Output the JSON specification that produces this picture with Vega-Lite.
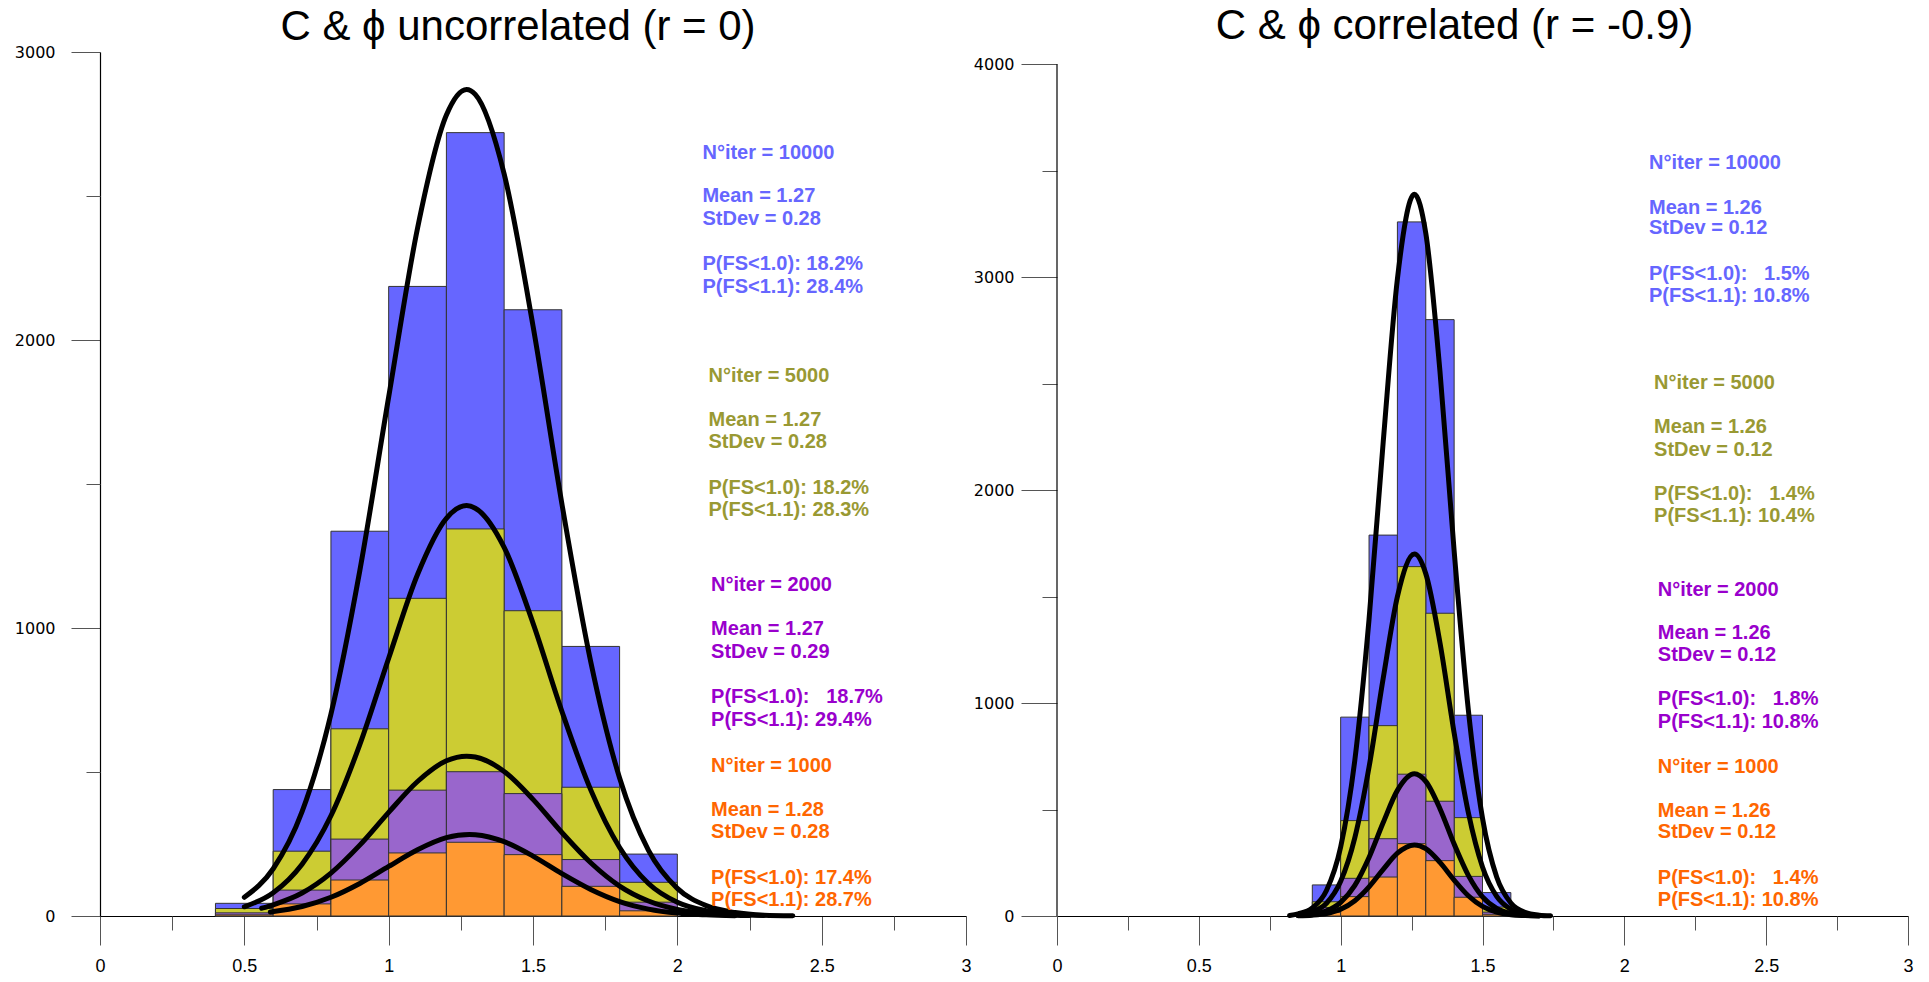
{
 "$schema": "https://vega.github.io/schema/vega-lite/v6.json",
 "background": "white",
 "padding": {"left": 14, "top": 5, "right": 0, "bottom": 0},
 "spacing": 1,
 "config": {"view": {"stroke": null}, "axis": {"grid": false, "title": null, "domainColor": "black", "domainWidth": 1.2, "tickColor": "#555", "tickWidth": 1, "labelColor": "black"}},
 "datasets": {
  "barsL": [
   {"g":"10000","x0":0.4,"x1":0.6,"count":44},{"g":"10000","x0":0.6,"x1":0.8,"count":439},{"g":"10000","x0":0.8,"x1":1.0,"count":1336},{"g":"10000","x0":1.0,"x1":1.2,"count":2186},{"g":"10000","x0":1.2,"x1":1.4,"count":2720},{"g":"10000","x0":1.4,"x1":1.6,"count":2105},{"g":"10000","x0":1.6,"x1":1.8,"count":936},{"g":"10000","x0":1.8,"x1":2.0,"count":215},
   {"g":"5000","x0":0.4,"x1":0.6,"count":26},{"g":"5000","x0":0.6,"x1":0.8,"count":225},{"g":"5000","x0":0.8,"x1":1.0,"count":650},{"g":"5000","x0":1.0,"x1":1.2,"count":1103},{"g":"5000","x0":1.2,"x1":1.4,"count":1344},{"g":"5000","x0":1.4,"x1":1.6,"count":1060},{"g":"5000","x0":1.6,"x1":1.8,"count":447},{"g":"5000","x0":1.8,"x1":2.0,"count":117},
   {"g":"2000","x0":0.4,"x1":0.6,"count":11},{"g":"2000","x0":0.6,"x1":0.8,"count":90},{"g":"2000","x0":0.8,"x1":1.0,"count":267},{"g":"2000","x0":1.0,"x1":1.2,"count":437},{"g":"2000","x0":1.2,"x1":1.4,"count":501},{"g":"2000","x0":1.4,"x1":1.6,"count":425},{"g":"2000","x0":1.6,"x1":1.8,"count":196},{"g":"2000","x0":1.8,"x1":2.0,"count":48},
   {"g":"1000","x0":0.4,"x1":0.6,"count":4},{"g":"1000","x0":0.6,"x1":0.8,"count":42},{"g":"1000","x0":0.8,"x1":1.0,"count":125},{"g":"1000","x0":1.0,"x1":1.2,"count":219},{"g":"1000","x0":1.2,"x1":1.4,"count":256},{"g":"1000","x0":1.4,"x1":1.6,"count":213},{"g":"1000","x0":1.6,"x1":1.8,"count":103},{"g":"1000","x0":1.8,"x1":2.0,"count":18}
  ],
  "barsR": [
   {"g":"10000","x0":0.9,"x1":1.0,"count":146},{"g":"10000","x0":1.0,"x1":1.1,"count":934},{"g":"10000","x0":1.1,"x1":1.2,"count":1789},{"g":"10000","x0":1.2,"x1":1.3,"count":3260},{"g":"10000","x0":1.3,"x1":1.4,"count":2801},{"g":"10000","x0":1.4,"x1":1.5,"count":943},{"g":"10000","x0":1.5,"x1":1.6,"count":110},
   {"g":"5000","x0":0.9,"x1":1.0,"count":67},{"g":"5000","x0":1.0,"x1":1.1,"count":448},{"g":"5000","x0":1.1,"x1":1.2,"count":894},{"g":"5000","x0":1.2,"x1":1.3,"count":1641},{"g":"5000","x0":1.3,"x1":1.4,"count":1422},{"g":"5000","x0":1.4,"x1":1.5,"count":462},{"g":"5000","x0":1.5,"x1":1.6,"count":42},
   {"g":"2000","x0":0.9,"x1":1.0,"count":40},{"g":"2000","x0":1.0,"x1":1.1,"count":177},{"g":"2000","x0":1.1,"x1":1.2,"count":363},{"g":"2000","x0":1.2,"x1":1.3,"count":666},{"g":"2000","x0":1.3,"x1":1.4,"count":539},{"g":"2000","x0":1.4,"x1":1.5,"count":186},{"g":"2000","x0":1.5,"x1":1.6,"count":18},
   {"g":"1000","x0":0.9,"x1":1.0,"count":18},{"g":"1000","x0":1.0,"x1":1.1,"count":91},{"g":"1000","x0":1.1,"x1":1.2,"count":183},{"g":"1000","x0":1.2,"x1":1.3,"count":340},{"g":"1000","x0":1.3,"x1":1.4,"count":260},{"g":"1000","x0":1.4,"x1":1.5,"count":88},{"g":"1000","x0":1.5,"x1":1.6,"count":8}
  ],
  "curvesL": [
   {"g":"10000","x":0.5,"v":65},{"g":"10000","x":0.6,"v":164},{"g":"10000","x":0.7,"v":362},{"g":"10000","x":0.8,"v":701},{"g":"10000","x":0.9,"v":1199},{"g":"10000","x":1.0,"v":1802},{"g":"10000","x":1.1,"v":2388},{"g":"10000","x":1.2,"v":2781},{"g":"10000","x":1.27,"v":2870},{"g":"10000","x":1.3,"v":2853},{"g":"10000","x":1.4,"v":2577},{"g":"10000","x":1.5,"v":2049},{"g":"10000","x":1.6,"v":1432},{"g":"10000","x":1.7,"v":883},{"g":"10000","x":1.8,"v":479},{"g":"10000","x":1.9,"v":228},{"g":"10000","x":2.0,"v":96},{"g":"10000","x":2.1,"v":36},{"g":"10000","x":2.2,"v":12},{"g":"10000","x":2.3,"v":3},{"g":"10000","x":2.4,"v":1},
   {"g":"5000","x":0.5,"v":32},{"g":"5000","x":0.6,"v":81},{"g":"5000","x":0.7,"v":180},{"g":"5000","x":0.8,"v":348},{"g":"5000","x":0.9,"v":595},{"g":"5000","x":1.0,"v":895},{"g":"5000","x":1.1,"v":1186},{"g":"5000","x":1.2,"v":1381},{"g":"5000","x":1.27,"v":1425},{"g":"5000","x":1.3,"v":1416},{"g":"5000","x":1.4,"v":1280},{"g":"5000","x":1.5,"v":1017},{"g":"5000","x":1.6,"v":711},{"g":"5000","x":1.7,"v":438},{"g":"5000","x":1.8,"v":238},{"g":"5000","x":1.9,"v":113},{"g":"5000","x":2.0,"v":48},{"g":"5000","x":2.1,"v":18},{"g":"5000","x":2.2,"v":6},{"g":"5000","x":2.3,"v":2},
   {"g":"2000","x":0.56,"v":27},{"g":"2000","x":0.6,"v":39},{"g":"2000","x":0.7,"v":80},{"g":"2000","x":0.8,"v":149},{"g":"2000","x":0.9,"v":246},{"g":"2000","x":1.0,"v":360},{"g":"2000","x":1.1,"v":467},{"g":"2000","x":1.2,"v":539},{"g":"2000","x":1.27,"v":555},{"g":"2000","x":1.3,"v":552},{"g":"2000","x":1.4,"v":502},{"g":"2000","x":1.5,"v":405},{"g":"2000","x":1.6,"v":290},{"g":"2000","x":1.7,"v":185},{"g":"2000","x":1.8,"v":104},{"g":"2000","x":1.9,"v":52},{"g":"2000","x":2.0,"v":23},{"g":"2000","x":2.1,"v":9},{"g":"2000","x":2.2,"v":3},{"g":"2000","x":2.25,"v":2},
   {"g":"1000","x":0.59,"v":14},{"g":"1000","x":0.7,"v":33},{"g":"1000","x":0.8,"v":65},{"g":"1000","x":0.9,"v":113},{"g":"1000","x":1.0,"v":172},{"g":"1000","x":1.1,"v":230},{"g":"1000","x":1.2,"v":272},{"g":"1000","x":1.28,"v":283},{"g":"1000","x":1.3,"v":282},{"g":"1000","x":1.4,"v":258},{"g":"1000","x":1.5,"v":208},{"g":"1000","x":1.6,"v":147},{"g":"1000","x":1.7,"v":92},{"g":"1000","x":1.8,"v":50},{"g":"1000","x":1.9,"v":24},{"g":"1000","x":2.0,"v":10},{"g":"1000","x":2.1,"v":4},{"g":"1000","x":2.2,"v":1}
  ],
  "curvesR": [
   {"g":"10000","x":0.82,"v":2},{"g":"10000","x":0.85,"v":10},{"g":"10000","x":0.9,"v":38},{"g":"10000","x":0.95,"v":120},{"g":"10000","x":1.0,"v":324},{"g":"10000","x":1.05,"v":733},{"g":"10000","x":1.1,"v":1393},{"g":"10000","x":1.15,"v":2227},{"g":"10000","x":1.2,"v":2992},{"g":"10000","x":1.26,"v":3390},{"g":"10000","x":1.3,"v":3207},{"g":"10000","x":1.35,"v":2559},{"g":"10000","x":1.4,"v":1715},{"g":"10000","x":1.45,"v":969},{"g":"10000","x":1.5,"v":459},{"g":"10000","x":1.55,"v":183},{"g":"10000","x":1.6,"v":61},{"g":"10000","x":1.65,"v":17},{"g":"10000","x":1.7,"v":4},{"g":"10000","x":1.74,"v":1},
   {"g":"5000","x":0.85,"v":5},{"g":"5000","x":0.9,"v":19},{"g":"5000","x":0.95,"v":60},{"g":"5000","x":1.0,"v":163},{"g":"5000","x":1.05,"v":368},{"g":"5000","x":1.1,"v":699},{"g":"5000","x":1.15,"v":1117},{"g":"5000","x":1.2,"v":1500},{"g":"5000","x":1.26,"v":1700},{"g":"5000","x":1.3,"v":1608},{"g":"5000","x":1.35,"v":1284},{"g":"5000","x":1.4,"v":860},{"g":"5000","x":1.45,"v":486},{"g":"5000","x":1.5,"v":230},{"g":"5000","x":1.55,"v":92},{"g":"5000","x":1.6,"v":31},{"g":"5000","x":1.65,"v":9},{"g":"5000","x":1.7,"v":2},
   {"g":"2000","x":0.85,"v":2},{"g":"2000","x":0.9,"v":7},{"g":"2000","x":0.95,"v":24},{"g":"2000","x":1.0,"v":64},{"g":"2000","x":1.05,"v":144},{"g":"2000","x":1.1,"v":275},{"g":"2000","x":1.15,"v":439},{"g":"2000","x":1.2,"v":590},{"g":"2000","x":1.26,"v":668},{"g":"2000","x":1.3,"v":632},{"g":"2000","x":1.35,"v":504},{"g":"2000","x":1.4,"v":338},{"g":"2000","x":1.45,"v":191},{"g":"2000","x":1.5,"v":90},{"g":"2000","x":1.55,"v":36},{"g":"2000","x":1.6,"v":12},{"g":"2000","x":1.65,"v":3},{"g":"2000","x":1.7,"v":1},
   {"g":"1000","x":0.85,"v":1},{"g":"1000","x":0.9,"v":4},{"g":"1000","x":0.95,"v":12},{"g":"1000","x":1.0,"v":32},{"g":"1000","x":1.05,"v":72},{"g":"1000","x":1.1,"v":137},{"g":"1000","x":1.15,"v":219},{"g":"1000","x":1.2,"v":295},{"g":"1000","x":1.26,"v":334},{"g":"1000","x":1.3,"v":316},{"g":"1000","x":1.35,"v":252},{"g":"1000","x":1.4,"v":169},{"g":"1000","x":1.45,"v":95},{"g":"1000","x":1.5,"v":45},{"g":"1000","x":1.55,"v":18},{"g":"1000","x":1.6,"v":6},{"g":"1000","x":1.65,"v":2},{"g":"1000","x":1.7,"v":0}
  ],
  "textL": [
   {"g":"t10000","x":2.087,"y":2650,"label":"N°iter = 10000"},{"g":"t10000","x":2.087,"y":2500,"label":"Mean = 1.27"},{"g":"t10000","x":2.087,"y":2419,"label":"StDev = 0.28"},{"g":"t10000","x":2.087,"y":2265,"label":"P(FS<1.0): 18.2%"},{"g":"t10000","x":2.087,"y":2184,"label":"P(FS<1.1): 28.4%"},
   {"g":"t5000","x":2.108,"y":1876,"label":"N°iter = 5000"},{"g":"t5000","x":2.108,"y":1722,"label":"Mean = 1.27"},{"g":"t5000","x":2.108,"y":1645,"label":"StDev = 0.28"},{"g":"t5000","x":2.108,"y":1487,"label":"P(FS<1.0): 18.2%"},{"g":"t5000","x":2.108,"y":1410,"label":"P(FS<1.1): 28.3%"},
   {"g":"t2000","x":2.117,"y":1150,"label":"N°iter = 2000"},{"g":"t2000","x":2.117,"y":996,"label":"Mean = 1.27"},{"g":"t2000","x":2.117,"y":915,"label":"StDev = 0.29"},{"g":"t2000","x":2.117,"y":761,"label":"P(FS<1.0): \u00a0 18.7%"},{"g":"t2000","x":2.117,"y":679,"label":"P(FS<1.1): 29.4%"},
   {"g":"t1000","x":2.117,"y":521,"label":"N°iter = 1000"},{"g":"t1000","x":2.117,"y":368,"label":"Mean = 1.28"},{"g":"t1000","x":2.117,"y":291,"label":"StDev = 0.28"},{"g":"t1000","x":2.117,"y":132,"label":"P(FS<1.0): 17.4%"},{"g":"t1000","x":2.117,"y":56,"label":"P(FS<1.1): 28.7%"}
  ],
  "textR": [
   {"g":"t10000","x":2.087,"y":3538,"label":"N°iter = 10000"},{"g":"t10000","x":2.087,"y":3324,"label":"Mean = 1.26"},{"g":"t10000","x":2.087,"y":3231,"label":"StDev = 0.12"},{"g":"t10000","x":2.087,"y":3017,"label":"P(FS<1.0): \u00a0 1.5%"},{"g":"t10000","x":2.087,"y":2913,"label":"P(FS<1.1): 10.8%"},
   {"g":"t5000","x":2.105,"y":2503,"label":"N°iter = 5000"},{"g":"t5000","x":2.105,"y":2295,"label":"Mean = 1.26"},{"g":"t5000","x":2.105,"y":2191,"label":"StDev = 0.12"},{"g":"t5000","x":2.105,"y":1983,"label":"P(FS<1.0): \u00a0 1.4%"},{"g":"t5000","x":2.105,"y":1879,"label":"P(FS<1.1): 10.4%"},
   {"g":"t2000","x":2.118,"y":1532,"label":"N°iter = 2000"},{"g":"t2000","x":2.118,"y":1329,"label":"Mean = 1.26"},{"g":"t2000","x":2.118,"y":1225,"label":"StDev = 0.12"},{"g":"t2000","x":2.118,"y":1017,"label":"P(FS<1.0): \u00a0 1.8%"},{"g":"t2000","x":2.118,"y":913,"label":"P(FS<1.1): 10.8%"},
   {"g":"t1000","x":2.118,"y":699,"label":"N°iter = 1000"},{"g":"t1000","x":2.118,"y":491,"label":"Mean = 1.26"},{"g":"t1000","x":2.118,"y":393,"label":"StDev = 0.12"},{"g":"t1000","x":2.118,"y":179,"label":"P(FS<1.0): \u00a0 1.4%"},{"g":"t1000","x":2.118,"y":75,"label":"P(FS<1.1): 10.8%"}
  ]
 },
 "hconcat": [
  {
   "width": 866, "height": 864,
   "title": {"text": "C & ϕ uncorrelated (r = 0)", "font": "Liberation Sans Narrow, Arial Narrow, Liberation Sans, sans-serif", "fontSize": 42, "fontWeight": "normal", "color": "black", "anchor": "middle", "offset": -5, "dx": -15},
   "layer": [
    {"data": {"name": "barsL"}, "mark": {"type": "rect", "stroke": "#333", "strokeWidth": 1},
     "encoding": {
      "x": {"field": "x0", "type": "quantitative", "scale": {"domain": [0, 3], "nice": false, "zero": false}, "axis": {"orient": "bottom", "values": [0, 0.5, 1, 1.5, 2, 2.5, 3], "format": "~g", "tickSize": 29, "labelFont": "Liberation Sans Narrow, Arial Narrow, Liberation Sans, sans-serif", "labelFontSize": 18, "labelPadding": 12, "labelFlush": false, "labelOverlap": false}},
      "x2": {"field": "x1"},
      "y": {"field": "count", "type": "quantitative", "scale": {"domain": [0, 3000], "nice": false}, "axis": {"orient": "left", "values": [0, 1000, 2000, 3000], "format": "d", "tickSize": 29, "labelFont": "DejaVu Sans", "labelFontSize": 16, "labelPadding": 16, "labelFlush": false, "labelOverlap": false}},
      "color": {"field": "g", "type": "nominal", "scale": {"domain": ["10000","5000","2000","1000","t10000","t5000","t2000","t1000"], "range": ["#6666ff","#cccc33","#9966cc","#ff9933","#6666ff","#999933","#9900cc","#ff6600"]}, "legend": null}
     }},
    {"data": {"name": "curvesL"}, "mark": {"type": "line", "stroke": "black", "strokeWidth": 5, "interpolate": "monotone", "strokeCap": "round"},
     "encoding": {
      "x": {"field": "x", "type": "quantitative", "axis": {"orient": "bottom", "values": [0.25, 0.75, 1.25, 1.75, 2.25, 2.75], "tickSize": 14, "labels": false, "domain": false}},
      "y": {"field": "v", "type": "quantitative", "axis": {"orient": "left", "values": [500, 1500, 2500], "tickSize": 14, "labels": false, "domain": false}},
      "detail": {"field": "g"}
     }},
    {"data": {"name": "textL"}, "mark": {"type": "text", "align": "left", "baseline": "middle", "font": "Liberation Sans", "fontWeight": "bold", "fontSize": 20},
     "encoding": {
      "x": {"field": "x", "type": "quantitative", "axis": null},
      "y": {"field": "y", "type": "quantitative", "axis": null},
      "text": {"field": "label"},
      "color": {"field": "g", "type": "nominal", "legend": null}
     }}
   ],
   "resolve": {"axis": {"x": "independent", "y": "independent"}}
  },
  {
   "width": 851, "height": 864,
   "title": {"text": "C & ϕ correlated (r = -0.9)", "font": "Liberation Sans Narrow, Arial Narrow, Liberation Sans, sans-serif", "fontSize": 42, "fontWeight": "normal", "color": "black", "anchor": "middle", "offset": 4, "dx": -28},
   "layer": [
    {"data": {"name": "barsR"}, "mark": {"type": "rect", "stroke": "#333", "strokeWidth": 1},
     "encoding": {
      "x": {"field": "x0", "type": "quantitative", "scale": {"domain": [0, 3], "nice": false, "zero": false}, "axis": {"orient": "bottom", "values": [0, 0.5, 1, 1.5, 2, 2.5, 3], "format": "~g", "tickSize": 29, "labelFont": "Liberation Sans Narrow, Arial Narrow, Liberation Sans, sans-serif", "labelFontSize": 18, "labelPadding": 12, "labelFlush": false, "labelOverlap": false}},
      "x2": {"field": "x1"},
      "y": {"field": "count", "type": "quantitative", "scale": {"domain": [0, 4058], "nice": false}, "axis": {"orient": "left", "values": [0, 1000, 2000, 3000, 4000], "format": "d", "domain": false, "tickSize": 36, "labelFont": "DejaVu Sans", "labelFontSize": 16, "labelPadding": 7, "labelFlush": false, "labelOverlap": false}},
      "color": {"field": "g", "type": "nominal", "legend": null}
     }},
    {"data": {"name": "curvesR"}, "mark": {"type": "line", "stroke": "black", "strokeWidth": 5, "interpolate": "monotone", "strokeCap": "round"},
     "encoding": {
      "x": {"field": "x", "type": "quantitative", "axis": {"orient": "bottom", "values": [0.25, 0.75, 1.25, 1.75, 2.25, 2.75], "tickSize": 14, "labels": false, "domain": false}},
      "y": {"field": "v", "type": "quantitative", "axis": {"orient": "left", "values": [500, 1500, 2500, 3500], "tickSize": 15, "labels": false, "domain": false}},
      "detail": {"field": "g"}
     }},
    {"data": {"values": [{}]}, "mark": {"type": "rule", "color": "black", "strokeWidth": 1.2},
     "encoding": {
      "x": {"datum": 0, "type": "quantitative", "axis": null},
      "y": {"datum": 0, "type": "quantitative", "axis": null},
      "y2": {"datum": 4000}
     }},
    {"data": {"name": "textR"}, "mark": {"type": "text", "align": "left", "baseline": "middle", "font": "Liberation Sans", "fontWeight": "bold", "fontSize": 20},
     "encoding": {
      "x": {"field": "x", "type": "quantitative", "axis": null},
      "y": {"field": "y", "type": "quantitative", "axis": null},
      "text": {"field": "label"},
      "color": {"field": "g", "type": "nominal", "legend": null}
     }}
   ],
   "resolve": {"axis": {"x": "independent", "y": "independent"}}
  }
 ]
}
